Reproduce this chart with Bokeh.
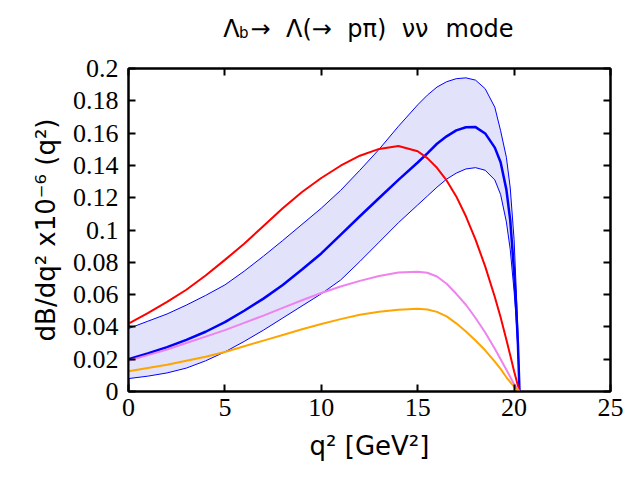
from bokeh.plotting import figure
from bokeh.models import Range1d, LinearAxis, FixedTicker, CustomJSTickFormatter
from bokeh.embed import file_html
from bokeh.resources import INLINE
from bokeh.core.properties import value

# shared q^2 grid (GeV^2)
q2 = [0, 1, 2, 3, 4, 5, 6, 7, 8, 9, 10, 11, 12, 13, 14, 15,
      15.5, 16, 16.5, 17, 17.5, 18, 18.5, 19, 19.3, 19.6, 19.8, 20.0, 20.1, 20.2, 20.28]

red = [0.042, 0.0485, 0.0555, 0.063, 0.0718, 0.0815, 0.0915, 0.1025, 0.1135, 0.1235,
       0.1322, 0.1398, 0.146, 0.1502, 0.152, 0.1488,
       0.1445, 0.1385, 0.1307, 0.1208, 0.1085, 0.094, 0.0775, 0.0585, 0.046, 0.032,
       0.0225, 0.0125, 0.008, 0.0035, 0.0]

blue_upper = [0.039, 0.0435, 0.048, 0.0535, 0.0595, 0.066, 0.0745, 0.0838, 0.0935, 0.1035,
              0.1135, 0.1245, 0.137, 0.150, 0.1642, 0.1775,
              0.1835, 0.1885, 0.1918, 0.1937, 0.1942, 0.1928, 0.1875, 0.176, 0.1615, 0.145,
              0.126, 0.094, 0.066, 0.036, 0.0]

blue_central = [0.020, 0.0235, 0.0275, 0.032, 0.037, 0.043, 0.050, 0.0575, 0.066, 0.0755,
                0.0855, 0.097, 0.1085, 0.1198, 0.131, 0.1418,
                0.1475, 0.1534, 0.158, 0.1617, 0.1636, 0.1637, 0.1598, 0.151, 0.142, 0.125,
                0.106, 0.074, 0.054, 0.029, 0.0]

blue_lower = [0.008, 0.0095, 0.0115, 0.0145, 0.019, 0.0245, 0.031, 0.038, 0.0455, 0.053,
              0.0605, 0.069, 0.0805, 0.0925, 0.1045, 0.1155,
              0.121, 0.1265, 0.1315, 0.1352, 0.1378, 0.1386, 0.137, 0.131, 0.122, 0.105,
              0.088, 0.062, 0.046, 0.026, 0.0]

violet = [0.019, 0.0225, 0.026, 0.030, 0.034, 0.038, 0.0425, 0.047, 0.0518, 0.0565,
          0.061, 0.065, 0.0685, 0.0715, 0.0737, 0.0742,
          0.0735, 0.0712, 0.0667, 0.0605, 0.0537, 0.0455, 0.0365, 0.0265, 0.020, 0.0135,
          0.009, 0.0045, 0.003, 0.0012, 0.0]

orange = [0.0125, 0.0145, 0.0165, 0.019, 0.0215, 0.0245, 0.028, 0.0315, 0.035, 0.0385,
          0.0418, 0.0448, 0.0475, 0.0494, 0.0506, 0.0513,
          0.0508, 0.0493, 0.0465, 0.0422, 0.0372, 0.0316, 0.0255, 0.0185, 0.014, 0.0088,
          0.0058, 0.003, 0.002, 0.0008, 0.0]

x_ticks = [0, 5, 10, 15, 20, 25]
y_ticks = [0, 0.02, 0.04, 0.06, 0.08, 0.1, 0.12, 0.14, 0.16, 0.18, 0.2]

# title pieces: text and anchor (q2, value) of each piece
title_parts = ["Λ", "b", "→", "Λ(→", "pπ)", "νν", "mode"]
title_x = [4.912, 5.731, 6.328, 8.169, 11.349, 14.170, 16.442]
title_y = [0.2246, 0.2217, 0.2246, 0.2246, 0.2246, 0.2246, 0.2246]
title_size = ["24px", "15px", "24px", "24px", "24px", "24px", "24px"]

x_label = "q² [GeV²]"
y_label = "dB/dq² x10⁻⁶ (q²)"

p = figure(width=632, height=472, output_backend="svg", toolbar_location=None,
           x_range=Range1d(0, 25), y_range=Range1d(0, 0.2),
           min_border_left=128, min_border_right=22, min_border_top=68, min_border_bottom=81)
p.grid.visible = False
p.outline_line_color = "black"
p.outline_line_width = 2
p.background_fill_color = "white"
p.border_fill_color = "white"

yfmt = CustomJSTickFormatter(code="return tick.toFixed(2).replace(/\\.?0+$/, '');")

def style_axis(ax, labels=True):
    ax.axis_line_width = 2
    ax.axis_line_color = "black"
    ax.major_tick_in = 7
    ax.major_tick_out = 0
    ax.major_tick_line_width = 2
    ax.major_tick_line_color = "black"
    ax.minor_tick_line_color = None
    ax.major_label_text_font = "Liberation Serif"
    ax.major_label_text_font_size = "26px"
    ax.major_label_text_color = "black"
    ax.axis_label_text_font = "DejaVu Sans"
    ax.axis_label_text_font_size = "26px"
    ax.axis_label_text_font_style = "normal"
    ax.axis_label_text_color = "black"
    if not labels:
        ax.major_label_text_font_size = "0px"
        ax.major_label_standoff = 0

p.xaxis.ticker = FixedTicker(ticks=x_ticks)
p.yaxis.ticker = FixedTicker(ticks=y_ticks)
p.yaxis.formatter = yfmt
style_axis(p.xaxis[0])
style_axis(p.yaxis[0])
p.xaxis.axis_label = x_label
p.yaxis.axis_label = y_label
p.xaxis.major_label_standoff = 7
p.yaxis.major_label_standoff = 10
p.xaxis.axis_label_standoff = 12
p.yaxis.axis_label_standoff = 9

top = LinearAxis(ticker=FixedTicker(ticks=x_ticks))
style_axis(top, labels=False)
p.add_layout(top, "above")
right = LinearAxis(ticker=FixedTicker(ticks=y_ticks))
style_axis(right, labels=False)
p.add_layout(right, "right")

p.varea(x=q2, y1=blue_lower, y2=blue_upper, fill_color="#e2e2fa")
p.line(q2, blue_upper, line_color="#0000ff", line_width=1)
p.line(q2, blue_lower, line_color="#0000ff", line_width=1)
p.line(q2, blue_central, line_color="#0000ff", line_width=2.5)
p.line(q2, red, line_color="#ff0000", line_width=2)
p.line(q2, violet, line_color="violet", line_width=2)
p.line(q2, orange, line_color="orange", line_width=2)

# title drawn as text glyphs on the overlay level so they are not clipped
for t, tx, ty, ts in zip(title_parts, title_x, title_y, title_size):
    r = p.text(x=[tx], y=[ty], text=[t], text_font=value("DejaVu Sans"),
               text_font_size=ts, text_color="black", text_baseline="alphabetic")
    r.level = "overlay"

open("out.html", "w").write(file_html(p, INLINE))
